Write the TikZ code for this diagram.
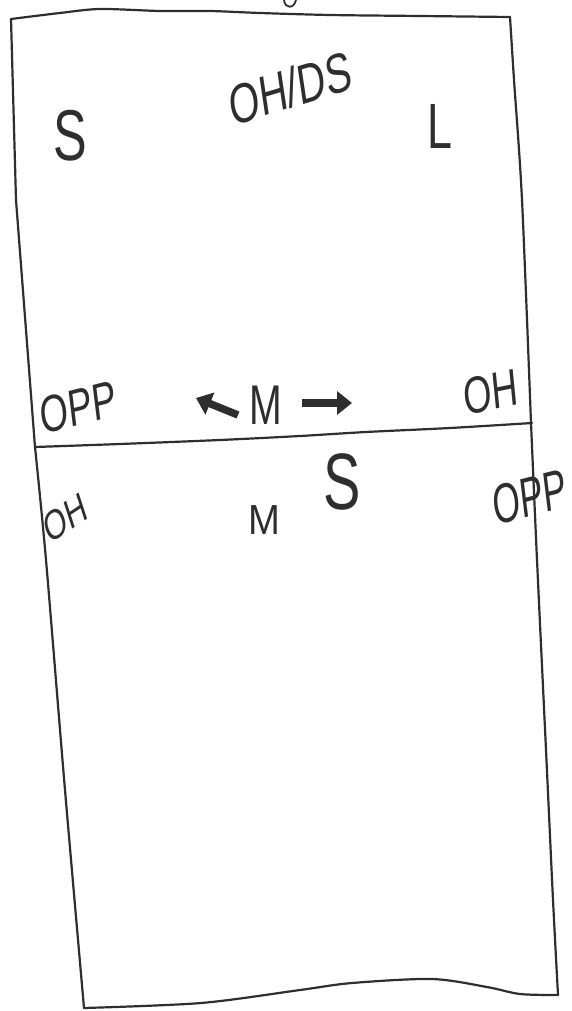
\documentclass[tikz,border=0pt]{standalone}
\usepackage{fontspec}
\setmainfont{Liberation Sans}
\usetikzlibrary{arrows.meta}
\definecolor{ink}{HTML}{2E2E2E}
\tikzset{
  court/.style={draw=ink, line width=2.2pt, line join=round, line cap=round},
  lbl/.style={font=\fontsize{#1}{#1}\selectfont, inner sep=0pt, text=ink, xscale=0.7},
  fatarrow/.style={draw=ink, line width=7.5pt, -{Triangle[length=15pt,width=23pt]}}
}
\begin{document}
\begin{tikzpicture}[x=1pt,y=-1pt]
\useasboundingbox (0,0) rectangle (571,1011);
% upper half of court
\draw[court] plot[smooth] coordinates {(11,19) (60,13) (100,9) (160,11) (210,11) (260,13) (330,15) (420,16) (510,17)};
\draw[court] plot[smooth] coordinates {(510,17) (514,80) (522,200) (531,423)};
\draw[court] (11,19) -- (16,200) -- (35,447);
% net / middle line
\draw[court] plot[smooth] coordinates {(35,447) (120,444) (220,440) (300,436) (366,432) (450,428) (532,423)};
% lower half
\draw[court] plot[smooth] coordinates {(35,447) (46,560) (65,790) (84,1008)};
\draw[court] plot[smooth] coordinates {(531,423) (537,560) (546,750) (553,900) (558,995)};
\draw[court] plot[smooth] coordinates {(84,1008) (201,1003) (300,990) (352,983) (432,979) (487,987) (520,994) (558,995)};
% cut-off stroke at top
\draw[court, line width=1.8pt] (284,0) .. controls (285,9) and (294,9) .. (296,0);
% labels upper half
\node[lbl=72] (s1) at (70,136) {S};
\node[lbl=56, rotate=12] (ohds) at (290,88) {OH/DS};
\node[lbl=64] (l1) at (440,126) {L};
\node[lbl=52, rotate=10] (opp1) at (78,407) {OPP};
\node[lbl=56] (m1) at (266,405) {M};
\node[lbl=52, rotate=8] (oh1) at (491,392) {OH};
% mid arrows
\coordinate (al) at (238,415);
\coordinate (alt) at (196,398);
\coordinate (ar) at (302,403);
\coordinate (art) at (352,403);
\draw[fatarrow] (al) -- (alt);
\draw[fatarrow] (ar) -- (art);
% labels lower half
\node[lbl=80] (s2) at (342,482) {S};
\node[lbl=42, xscale=1.3] (m2) at (264,520) {M};
\node[lbl=42, rotate=25] (oh2) at (65,518) {OH};
\node[lbl=56, rotate=10, xscale=0.9] (opp2) at (530,497) {OPP};
\end{tikzpicture}
\end{document}
